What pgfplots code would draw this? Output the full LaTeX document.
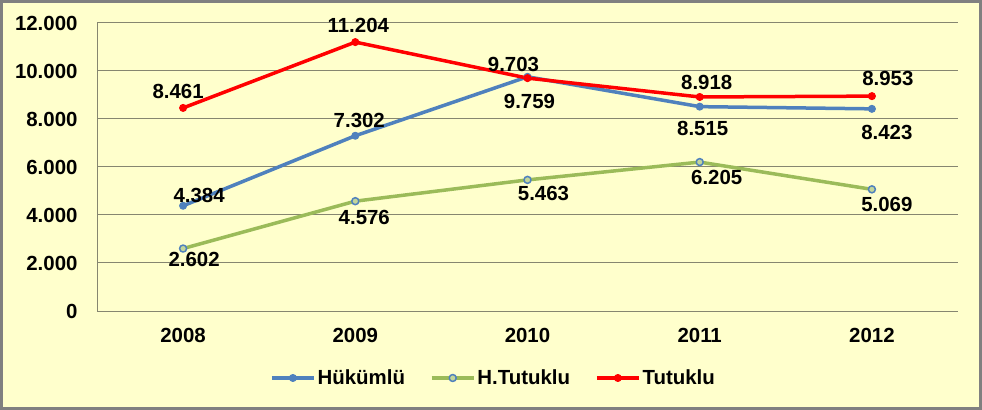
\documentclass[border=0pt]{standalone}
\usepackage{fontspec}
\setmainfont{Liberation Sans}
\usepackage{pgfplots}
\pgfplotsset{compat=1.18}
\usepackage{pgfplotstable}

\definecolor{bg}{RGB}{255,255,204}
\definecolor{gridc}{RGB}{134,134,112}
\definecolor{framec}{RGB}{128,128,128}
\definecolor{hblue}{RGB}{79,129,189}
\definecolor{hgreen}{RGB}{155,187,89}
\definecolor{tred}{RGB}{255,0,0}

% x = year index, dx/dy = label offset in bp
\pgfplotstableread{
x y dx dy
0 4384 16 10
1 7302 4 15
2 9759 2 -25
3 8515 3 -22
4 8423 15 -24
}\hukumlu
\pgfplotstableread{
x y dx dy
0 2602 11 -11
1 4576 9 -16
2 5463 16 -14
3 6205 17 -15
4 5069 15 -15
}\htutuklu
\pgfplotstableread{
x y dx dy
0 8461 -5 16
1 11204 3 17
2 9703 -14 14
3 8918 7 14
4 8953 16 18
}\tutuklu

\begin{document}
\begin{tikzpicture}
\fill[framec] (0,0) rectangle (982bp,410bp);
\fill[bg] (3bp,3bp) rectangle (979bp,407bp);
\begin{axis}[
  at={(97bp,99bp)}, anchor=south west,
  scale only axis, width=861bp, height=288bp,
  xmin=-0.5, xmax=4.5, ymin=0, ymax=12000,
  xtick={0,1,2,3,4},
  xticklabels={2008,2009,2010,2011,2012},
  ytick={0,2000,4000,6000,8000,10000,12000},
  yticklabels={0,2.000,4.000,6.000,8.000,10.000,12.000},
  scaled y ticks=false,
  ymajorgrids, grid style={gridc, line width=1bp},
  axis x line*=bottom, axis y line*=left,
  axis line style={gridc, line width=1bp, -},
  major tick length=0pt,
  tick label style={font=\fontsize{20.5}{24}\selectfont\bfseries},
  yticklabel style={xshift=-16bp},
  xticklabel style={yshift=-14bp},
  clip=false,
  /pgf/number format/assume math mode=true,
  point meta=y,
  nodes near coords={\pgfmathprintnumber[fixed,precision=0,1000 sep={.}]{\pgfplotspointmeta}},
  visualization depends on={\thisrow{dx} \as \dx},
  visualization depends on={\thisrow{dy} \as \dy},
  every node near coord/.append style={font=\fontsize{20.5}{24}\selectfont\bfseries,
    text=black, anchor=center, xshift=\dx bp, yshift=\dy bp},
  every axis plot/.append style={line width=3.5bp, line join=round},
  legend image code/.code={\draw[mark repeat=2,mark phase=2]
    plot coordinates {(0bp,0bp)(21bp,0bp)(42bp,0bp)};},
  legend style={draw=none, fill=none, at={(0.4605,-0.2326)}, anchor=center,
    legend columns=-1, font=\fontsize{20.5}{24}\selectfont\bfseries,
    /tikz/every even column/.append style={column sep=23bp},
    /tikz/every odd column/.append style={column sep=0bp}},
]
\addplot[hblue, mark=*, mark size=3.5bp,
  mark options={fill=hblue, draw=hblue, line width=1bp}] table[x=x,y=y] {\hukumlu};
\addplot[hgreen, mark=*, mark size=3.5bp,
  mark options={fill=hgreen!60!white, draw=hblue, line width=1.5bp}] table[x=x,y=y] {\htutuklu};
\addplot[tred, mark=*, mark size=3.5bp,
  mark options={fill=tred, draw=tred, line width=1bp}] table[x=x,y=y] {\tutuklu};
\legend{Hükümlü, H.Tutuklu, Tutuklu}
\end{axis}
\pgfresetboundingbox
\useasboundingbox (0,0) rectangle (982bp,410bp);
\end{tikzpicture}
\end{document}
